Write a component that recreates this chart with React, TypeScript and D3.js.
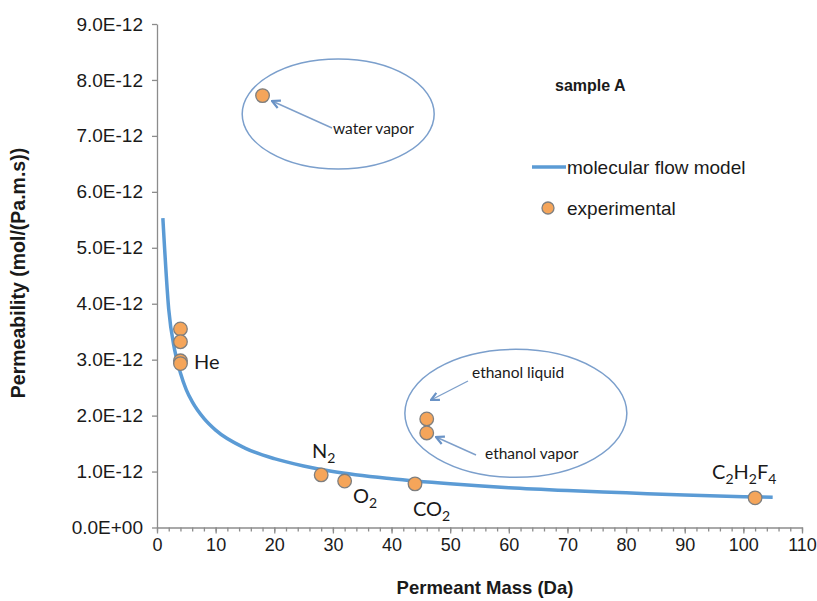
import React, { useEffect, useRef } from 'react';
import * as d3 from 'd3';

// experimental points (mass in Da, permeability in 1e-12 mol/(Pa.m.s))
const pointMass = [4, 4, 4, 4, 28, 32, 44, 18, 46, 46, 102];
const pointPerm = [3.55, 3.32, 2.98, 2.93, 0.94, 0.83, 0.78, 7.72, 1.94, 1.69, 0.53];

// molecular flow model curve
const modelMass = [1, 2, 3, 4, 5, 6, 8, 10, 15, 20, 25, 30, 40, 50, 60, 70, 80, 90, 100, 105];
const modelPerm = [5.53, 3.9, 3.18, 2.76, 2.46, 2.25, 1.95, 1.74, 1.42, 1.23, 1.1, 1.0, 0.87, 0.78, 0.71, 0.66, 0.62, 0.58, 0.55, 0.54];

const xTicks = [0, 10, 20, 30, 40, 50, 60, 70, 80, 90, 100, 110];
const yTicks = [0, 1, 2, 3, 4, 5, 6, 7, 8, 9];

const BLUE = '#5b9bd5';
const ORANGE = '#f5a55a';
const CAL = 'Lato, "Open Sans", sans-serif';
const ARIAL = '"Liberation Sans", Arial, sans-serif';

const App = () => {
  const ref = useRef<SVGSVGElement>(null);

  useEffect(() => {
    const svg = d3.select(ref.current);
    svg.selectAll('*').remove();

    const x = d3.scaleLinear().domain([0, 110]).range([157, 802]);
    const y = d3.scaleLinear().domain([0, 9]).range([527.5, 24]);

    const defs = svg.append('defs');
    defs.append('marker')
      .attr('id', 'arr')
      .attr('viewBox', '0 0 10 10')
      .attr('refX', 9).attr('refY', 5)
      .attr('markerWidth', 10).attr('markerHeight', 10)
      .attr('markerUnits', 'userSpaceOnUse')
      .attr('orient', 'auto')
      .append('path')
      .attr('d', 'M1,1 L9,5 L1,9')
      .attr('fill', 'none')
      .attr('stroke', '#6a93c6')
      .attr('stroke-width', 2.2);

    // y axis
    const ya = svg.append('g').attr('transform', 'translate(157,0)')
      .call(d3.axisLeft(y).tickValues(yTicks).tickSize(5).tickSizeOuter(0)
        .tickFormat((d: any) => d === 0 ? '0.0E+00' : d3.format('.1f')(d) + 'E-12'));
    ya.select('.domain').attr('stroke', '#8c8c8c').attr('stroke-width', 1.3);
    ya.selectAll('.tick line').attr('stroke', '#8c8c8c').attr('stroke-width', 1.3);
    ya.selectAll('.tick text').attr('font-size', 19).attr('font-family', ARIAL).attr('fill', '#1a1a1a').attr('x', -14);

    // x axis with minor ticks
    const xa = svg.append('g').attr('transform', 'translate(0,527.5)');
    xa.call(d3.axisBottom(x).ticks(55).tickSize(4).tickSizeOuter(0).tickFormat(() => ''));
    xa.call((g: any) => g.select('.domain').remove());
    const xb = svg.append('g').attr('transform', 'translate(0,527.5)')
      .call(d3.axisBottom(x).tickValues(xTicks).tickSize(6).tickSizeOuter(0));
    svg.selectAll('.tick line').attr('stroke', '#8c8c8c').attr('stroke-width', 1.3);
    xb.select('.domain').attr('stroke', '#8c8c8c').attr('stroke-width', 1.3);
    xb.selectAll('.tick text').attr('font-size', 18).attr('font-family', ARIAL).attr('fill', '#1a1a1a').attr('y', 11);

    // axis titles
    svg.append('text')
      .attr('x', 485).attr('y', 594)
      .attr('text-anchor', 'middle')
      .attr('font-family', ARIAL).attr('font-weight', 'bold').attr('font-size', 18.5)
      .attr('fill', '#1a1a1a')
      .text('Permeant Mass (Da)');
    svg.append('text')
      .attr('transform', 'translate(25,273) rotate(-90)')
      .attr('text-anchor', 'middle')
      .attr('font-family', ARIAL).attr('font-weight', 'bold').attr('font-size', 19.5)
      .attr('fill', '#1a1a1a')
      .text('Permeability (mol/(Pa.m.s))');

    // ellipses
    const ellipses = [
      { cx: 30.9, cy: 7.39, rx: 96, ry: 55 },
      { cx: 61.2, cy: 2.04, rx: 111, ry: 64 },
    ];
    svg.selectAll('ellipse.note').data(ellipses).enter().append('ellipse')
      .attr('cx', d => x(d.cx)).attr('cy', d => y(d.cy))
      .attr('rx', d => d.rx).attr('ry', d => d.ry)
      .attr('fill', 'none').attr('stroke', '#7b9fcc').attr('stroke-width', 1.5);

    // model line
    const line = d3.line<number>()
      .x((d, i) => x(modelMass[i]))
      .y(d => y(d))
      .curve(d3.curveMonotoneX);
    svg.append('path')
      .datum(modelPerm)
      .attr('d', line)
      .attr('fill', 'none')
      .attr('stroke', BLUE)
      .attr('stroke-width', 3.5);

    // arrows
    const arrows = [
      { from: [332, 128], to: [272, 101] },
      { from: [468, 381], to: [431, 400] },
      { from: [476, 455], to: [436, 437] },
    ];
    svg.selectAll('line.arrow').data(arrows).enter().append('line')
      .attr('x1', d => d.from[0]).attr('y1', d => d.from[1])
      .attr('x2', d => d.to[0]).attr('y2', d => d.to[1])
      .attr('stroke', '#7e9fca').attr('stroke-width', 1.4)
      .attr('marker-end', 'url(#arr)');

    // points
    svg.selectAll('circle.pt').data(pointMass).enter().append('circle')
      .attr('cx', d => x(d))
      .attr('cy', (d, i) => y(pointPerm[i]))
      .attr('r', 6.8)
      .attr('fill', ORANGE)
      .attr('stroke', '#7f7f7f')
      .attr('stroke-width', 1.3);

    // annotation text
    const note = (tx: number, ty: number, s: string, size: number) =>
      svg.append('text').attr('x', tx).attr('y', ty)
        .attr('font-family', CAL).attr('font-size', size).attr('fill', '#1a1a1a').text(s);
    note(333, 134, 'water vapor', 15.5);
    note(472, 378, 'ethanol liquid', 15.5);
    note(485, 459, 'ethanol vapor', 15.5);
    note(194, 369, 'He', 20);

    const chem = (tx: number, ty: number, parts: string[]) => {
      const t = svg.append('text').attr('x', tx).attr('y', ty)
        .attr('font-family', CAL).attr('font-size', 20).attr('fill', '#1a1a1a');
      parts.forEach((p, i) => {
        const sub = i % 2 === 1;
        t.append('tspan')
          .attr('font-size', sub ? 14 : 20)
          .attr('dy', i === 0 ? 0 : sub ? 5 : -5)
          .text(p);
      });
    };
    chem(312, 458, ['N', '2']);
    chem(353, 503, ['O', '2']);
    chem(413, 516, ['CO', '2']);
    chem(712, 479, ['C', '2', 'H', '2', 'F', '4']);

    // sample label
    svg.append('text').attr('x', 555).attr('y', 91)
      .attr('font-family', ARIAL).attr('font-weight', 'bold').attr('font-size', 16)
      .attr('fill', '#1a1a1a').text('sample A');

    // legend
    svg.append('line').attr('x1', 532).attr('x2', 566).attr('y1', 167).attr('y2', 167)
      .attr('stroke', BLUE).attr('stroke-width', 3.5);
    svg.append('text').attr('x', 567).attr('y', 174)
      .attr('font-family', ARIAL).attr('font-size', 19).attr('fill', '#1a1a1a')
      .text('molecular flow model');
    svg.append('circle').attr('cx', 548).attr('cy', 208).attr('r', 6)
      .attr('fill', ORANGE).attr('stroke', '#7f7f7f').attr('stroke-width', 1.3);
    svg.append('text').attr('x', 567).attr('y', 215)
      .attr('font-family', ARIAL).attr('font-size', 19).attr('fill', '#1a1a1a')
      .text('experimental');
  }, []);

  return (
    <svg ref={ref} width={817} height={601}
      style={{ position: 'absolute', left: 0, top: 0, background: '#fff' }} />
  );
};

export default App;
